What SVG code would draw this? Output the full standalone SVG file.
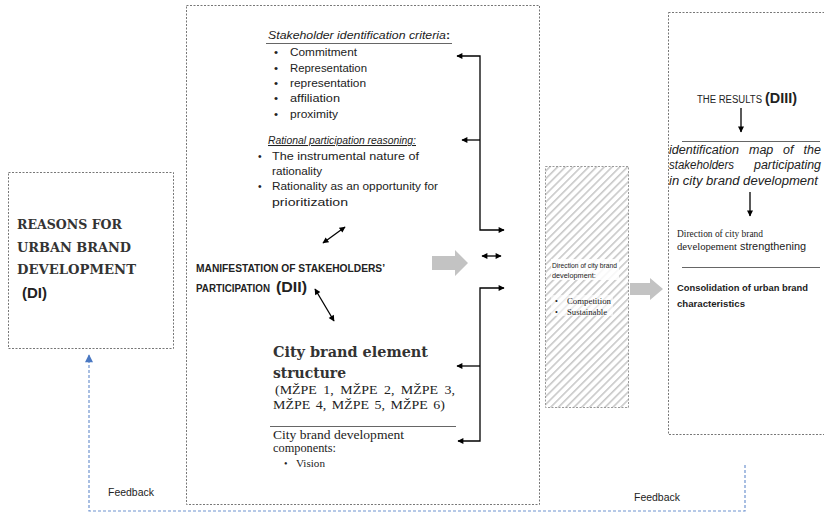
<svg xmlns="http://www.w3.org/2000/svg" width="824" height="512" viewBox="0 0 824 512">
<defs>
<style>
.box{fill:#fff;stroke:#777;stroke-width:1;stroke-dasharray:2 1.5}
.sans{font-family:"Liberation Sans",Arial,sans-serif;fill:#222}
.serif{font-family:"Liberation Serif","Times New Roman",serif;fill:#222}
.cam{font-family:"DejaVu Serif","Liberation Serif",serif;font-weight:bold;fill:#333}
.ln{stroke:#000;stroke-width:1.3;fill:none}
.rule{stroke:#666;stroke-width:1}
.fb{stroke:#6f93cf;stroke-width:1.2;fill:none;stroke-dasharray:3 2}
</style>
<marker id="ah" viewBox="0 0 10 10" refX="9" refY="5" markerWidth="7" markerHeight="6" orient="auto-start-reverse" markerUnits="userSpaceOnUse">
<path d="M0,0 L10,5 L0,10 z" fill="#000"/>
</marker>
<marker id="ahb" viewBox="0 0 10 10" refX="9" refY="5" markerWidth="9" markerHeight="8" orient="auto" markerUnits="userSpaceOnUse">
<path d="M0,0 L10,5 L0,10 z" fill="#4a78c2"/>
</marker>
<pattern id="hatch" patternUnits="userSpaceOnUse" width="5.5" height="5.5" patternTransform="rotate(45)">
<rect width="5.5" height="5.5" fill="#fff"/>
<line x1="0" y1="0" x2="0" y2="5.5" stroke="#c8c8c8" stroke-width="3.2"/>
</pattern>
</defs>
<rect width="824" height="512" fill="#fff"/>

<g id="node-reasons">
<rect class="box" x="8.5" y="172.5" width="165" height="176"/>
<text class="cam" font-size="13" x="17" y="229" textLength="105" lengthAdjust="spacingAndGlyphs">REASONS FOR</text>
<text class="cam" font-size="13" x="17" y="252" textLength="114" lengthAdjust="spacingAndGlyphs">URBAN BRAND</text>
<text class="cam" font-size="13" x="17" y="274" textLength="119" lengthAdjust="spacingAndGlyphs">DEVELOPMENT</text>
<text class="sans" font-size="14" font-weight="bold" x="22" y="298" textLength="25" lengthAdjust="spacingAndGlyphs">(DI)</text>
</g>

<g id="node-participation">
<rect class="box" x="186.5" y="5.5" width="353" height="499"/>
<text class="sans" font-size="11.8" font-style="italic" x="268" y="39" textLength="182" lengthAdjust="spacingAndGlyphs">Stakeholder identification criteria<tspan font-style="normal" font-weight="bold">:</tspan></text>
<line class="rule" x1="266" y1="43.5" x2="452" y2="43.5"/>
<g class="sans" font-size="11.5">
<text x="274" y="56">•</text><text x="290" y="56" textLength="67" lengthAdjust="spacingAndGlyphs">Commitment</text>
<text x="274" y="72">•</text><text x="290" y="72" textLength="77" lengthAdjust="spacingAndGlyphs">Representation</text>
<text x="274" y="87">•</text><text x="290" y="87" textLength="76" lengthAdjust="spacingAndGlyphs">representation</text>
<text x="274" y="102">•</text><text x="290" y="102" textLength="50" lengthAdjust="spacingAndGlyphs">affiliation</text>
<text x="274" y="118">•</text><text x="290" y="118" textLength="48" lengthAdjust="spacingAndGlyphs">proximity</text>
</g>
<text class="sans" font-size="10.3" font-style="italic" text-decoration="underline" x="268" y="144" textLength="148" lengthAdjust="spacingAndGlyphs">Rational participation reasoning:</text>
<g class="sans" font-size="10.3">
<text x="258" y="160">•</text><text x="272" y="160" textLength="147" lengthAdjust="spacingAndGlyphs">The instrumental nature of</text>
<text x="272" y="175" textLength="50" lengthAdjust="spacingAndGlyphs">rationality</text>
<text x="258" y="190">•</text><text x="272" y="190" textLength="166" lengthAdjust="spacingAndGlyphs">Rationality as an opportunity for</text>
<text x="272" y="206" textLength="76" lengthAdjust="spacingAndGlyphs">prioritization</text>
</g>
<text class="sans" font-size="10" font-weight="bold" x="196" y="272" textLength="189" lengthAdjust="spacingAndGlyphs">MANIFESTATION OF STAKEHOLDERS’</text>
<text class="sans" font-size="10" font-weight="bold" x="196" y="292" textLength="74" lengthAdjust="spacingAndGlyphs">PARTICIPATION</text>
<text class="sans" font-size="15" font-weight="bold" x="276" y="292" textLength="31" lengthAdjust="spacingAndGlyphs">(DII)</text>
<text class="cam" font-size="14" x="273" y="357" textLength="155" lengthAdjust="spacingAndGlyphs" fill="#222">City brand element</text>
<text class="cam" font-size="14" x="273" y="378" textLength="73" lengthAdjust="spacingAndGlyphs" fill="#222">structure</text>
<text class="serif" font-size="13.5" x="275" y="394" word-spacing="2.9" textLength="180" lengthAdjust="spacingAndGlyphs">(MŽPE 1, MŽPE 2, MŽPE 3,</text>
<text class="serif" font-size="13.5" x="273" y="409" word-spacing="2" textLength="172" lengthAdjust="spacingAndGlyphs">MŽPE 4, MŽPE 5, MŽPE 6)</text>
<line class="rule" x1="270" y1="426.5" x2="456" y2="426.5"/>
<text class="serif" font-size="11.5" x="273" y="438.5" textLength="131" lengthAdjust="spacingAndGlyphs">City brand development</text>
<text class="serif" font-size="11.5" x="273" y="452" textLength="63" lengthAdjust="spacingAndGlyphs">components:</text>
<text class="serif" font-size="10" x="284" y="467">•</text>
<text class="serif" font-size="10.5" x="296" y="467" textLength="29" lengthAdjust="spacingAndGlyphs">Vision</text>
<path d="M432,256 H455 V250 L468,263 L455,276 V270 H432 Z" fill="#c3c3c3"/>
</g>

<g id="node-direction">
<rect x="545.5" y="166.5" width="83" height="241" fill="url(#hatch)" stroke="#999" stroke-dasharray="2 1.5"/>
<rect x="551" y="259" width="68" height="21" fill="#fff" fill-opacity="0.85"/>
<rect x="551" y="295" width="62" height="21" fill="#fff" fill-opacity="0.6"/>
<text class="sans" font-size="7.3" x="552" y="267.5" textLength="65" lengthAdjust="spacingAndGlyphs">Direction of city brand</text>
<text class="sans" font-size="7.3" x="552" y="278">development:</text>
<text class="serif" font-size="8" x="555" y="304">•</text>
<text class="serif" font-size="8.8" x="567" y="304" textLength="44" lengthAdjust="spacingAndGlyphs">Competition</text>
<text class="serif" font-size="8" x="555" y="315">•</text>
<text class="serif" font-size="8.8" x="567" y="315" textLength="40" lengthAdjust="spacingAndGlyphs">Sustainable</text>
<path d="M630,283 H650 V278 L663,289 L650,300 V295 H630 Z" fill="#c3c3c3"/>
</g>

<g id="node-results">
<rect class="box" x="668.5" y="12.5" width="170" height="422"/>
<text class="sans" font-size="10" x="697" y="103" textLength="65" lengthAdjust="spacingAndGlyphs">THE RESULTS</text>
<text class="sans" font-size="14" font-weight="bold" x="765" y="103" textLength="32" lengthAdjust="spacingAndGlyphs">(DIII)</text>
<line class="rule" x1="682" y1="141.5" x2="820" y2="141.5"/>
<g class="sans" font-size="12.5" font-style="italic">
<text x="669" y="154" textLength="70" lengthAdjust="spacingAndGlyphs">identification</text>
<text x="749" y="154">map</text>
<text x="783" y="154">of</text>
<text x="821" y="154" text-anchor="end">the</text>
<text x="669" y="169" textLength="65" lengthAdjust="spacingAndGlyphs">stakeholders</text>
<text x="754" y="169" textLength="67" lengthAdjust="spacingAndGlyphs">participating</text>
<text x="669" y="185" textLength="149" lengthAdjust="spacingAndGlyphs">in city brand development</text>
</g>
<text class="serif" font-size="10" x="677" y="237" textLength="86" lengthAdjust="spacingAndGlyphs">Direction of city brand</text>
<text class="serif" font-size="10" x="677" y="250" textLength="60" lengthAdjust="spacingAndGlyphs">developement</text>
<text class="sans" font-size="10.5" x="740" y="250" textLength="66" lengthAdjust="spacingAndGlyphs">strengthening</text>
<line class="rule" x1="682" y1="267.5" x2="820" y2="267.5"/>
<text class="sans" font-size="9.6" font-weight="bold" x="677" y="291" textLength="131" lengthAdjust="spacingAndGlyphs">Consolidation of urban brand</text>
<text class="sans" font-size="9.6" font-weight="bold" x="677" y="307" textLength="68" lengthAdjust="spacingAndGlyphs">characteristics</text>
</g>

<g id="connectors">
<line class="ln" x1="741" y1="108" x2="741" y2="132" marker-end="url(#ah)"/>
<line class="ln" x1="750" y1="192" x2="750" y2="216" marker-end="url(#ah)"/>
<line class="ln" x1="323" y1="243" x2="345" y2="227" marker-start="url(#ah)" marker-end="url(#ah)"/>
<line class="ln" x1="315" y1="289" x2="334" y2="321" marker-start="url(#ah)" marker-end="url(#ah)"/>
<polyline class="ln" points="457,56 480,56 480,230 504,230" marker-start="url(#ah)" marker-end="url(#ah)"/>
<line class="ln" x1="480" y1="140" x2="462" y2="140" marker-end="url(#ah)"/>
<line class="ln" x1="482" y1="256" x2="501" y2="256" marker-start="url(#ah)" marker-end="url(#ah)"/>
<polyline class="ln" points="504,288 480,288 480,441 458,441" marker-start="url(#ah)" marker-end="url(#ah)"/>
<line class="ln" x1="480" y1="366" x2="457" y2="366" marker-end="url(#ah)"/>
<polyline class="fb" points="745,465 745,511 89,511 89,355" marker-end="url(#ahb)"/>
<text class="sans" font-size="10" x="108" y="496" textLength="46" lengthAdjust="spacingAndGlyphs">Feedback</text>
<text class="sans" font-size="10" x="634" y="501" textLength="46" lengthAdjust="spacingAndGlyphs">Feedback</text>
</g>
</svg>
